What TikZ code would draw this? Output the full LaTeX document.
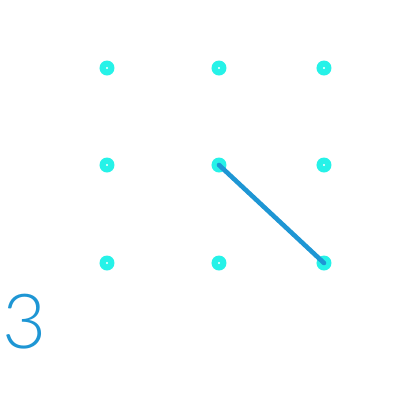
\documentclass[tikz,border=0pt]{standalone}
\usepackage{fontspec}
\newfontfamily\thinfont{Lato Light}
\definecolor{dotcyan}{RGB}{38,242,232}
\definecolor{strokeblue}{RGB}{30,150,212}
\begin{document}
\begin{tikzpicture}[x=0.5pt,y=-0.5pt,
  gdot/.style={circle,fill=dotcyan,inner sep=0pt,minimum size=7.5pt,
    path picture={\fill[white] (path picture bounding box.center) circle (0.55pt);}},
  seg/.style={draw=strokeblue,line width=2.3pt,line cap=round},
  numtext/.style={text=strokeblue,font=\thinfont\fontsize{38}{38}\selectfont,inner sep=0pt}]
\useasboundingbox[fill=white] (0,0) rectangle (420,420);
\node[gdot] (d11) at (107,68) {};
\node[gdot] (d12) at (219,68) {};
\node[gdot] (d13) at (324,68) {};
\node[gdot] (d21) at (107,165) {};
\node[gdot] (d22) at (219,165) {};
\node[gdot] (d23) at (324,165) {};
\node[gdot] (d31) at (107,263) {};
\node[gdot] (d32) at (219,263) {};
\node[gdot] (d33) at (324,263) {};
\draw[seg] (d22.center) -- (d33.center);
\node[numtext] (num) at (25,322) {3};
\end{tikzpicture}
\end{document}
